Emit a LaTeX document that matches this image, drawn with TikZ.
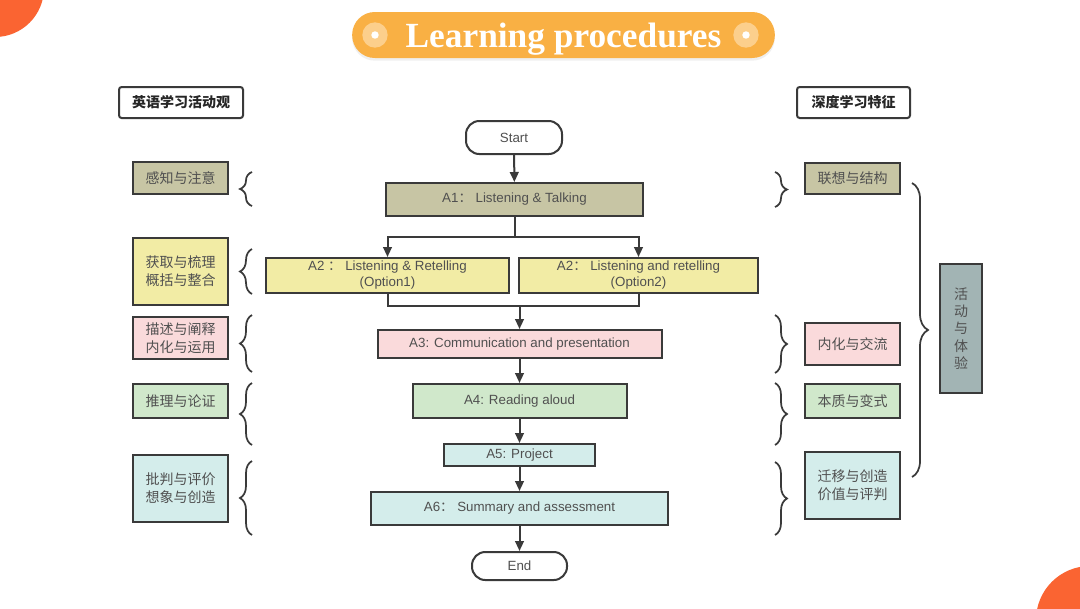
\documentclass[tikz,border=0pt]{standalone}
\usepackage{fontspec}
\setmainfont{Liberation Sans}
\newfontfamily\cjk{Noto Sans CJK SC}
\newfontfamily\titlefont{Liberation Serif}
\usetikzlibrary{arrows.meta,decorations.pathreplacing,shadows}

\definecolor{linegray}{HTML}{3A3A3A}
\definecolor{txtgray}{HTML}{505050}
\definecolor{olivebox}{HTML}{C7C5A4}
\definecolor{yellowbox}{HTML}{F2ECA5}
\definecolor{pinkbox}{HTML}{FADADB}
\definecolor{greenbox}{HTML}{D0E8CB}
\definecolor{cyanbox}{HTML}{D4EDEB}
\definecolor{slatebox}{HTML}{A2B4B4}
\definecolor{pillorange}{HTML}{F9B044}
\definecolor{pilldot}{HTML}{FCCF8C}
\definecolor{cornerred}{HTML}{FA6432}

\begin{document}
\begin{tikzpicture}[x=0.75pt, y=-0.75pt,
    box/.style={draw=linegray, line width=1.5pt, text=txtgray, inner sep=0pt, align=center, font=\fontsize{10}{12}\selectfont},
    cnbox/.style={box, minimum width=71.25pt, font=\cjk\fontsize{10.5}{13.5}\selectfont},
    hdrbox/.style={draw=linegray, line width=1.5pt, rounded corners=2pt, fill=white, minimum height=23.25pt, font=\cjk\bfseries\fontsize{10.5}{12}\selectfont, text=black!85},
    endbox/.style={box, fill=white, rounded corners=10pt},
    arr/.style={draw=linegray, line width=1.5pt, -{Triangle[length=7.5pt, width=6.5pt]}},
    wire/.style={draw=linegray, line width=1.5pt},
    brc/.style={draw=linegray, line width=1.3pt, decorate, decoration={brace, amplitude=#1}},
    brc/.default=9pt,
    pilldotnode/.style={circle, fill=pilldot, minimum size=19pt, inner sep=0pt}]

    \useasboundingbox (0,0) rectangle (1080,608);
    \fill[white] (0,0) rectangle (1080,608);
    \begin{scope}
        \clip (0,0) rectangle (1080,608);
        \fill[cornerred] (-5,-12) circle (36.75pt);
        \fill[cornerred] (1090,620) circle (40.5pt);
    \end{scope}

    \node[fill=pillorange, rounded corners=17pt, minimum width=317pt, minimum height=34.5pt, text=white, text depth=0pt,
        font=\titlefont\bfseries\fontsize{26.5}{28}\selectfont,
        drop shadow={opacity=0.12, shadow xshift=0pt, shadow yshift=-2pt}] (title) at (563.5,35) {Learning procedures};
    \node[pilldotnode] (dotl) at (375,35) {};
    \node[pilldotnode] (dotr) at (746,35) {};
    \fill[white] (dotl) circle (2.8pt);
    \fill[white] (dotr) circle (2.8pt);

    \node[hdrbox, minimum width=93pt] (hdrl) at (181,102.5) {英语学习活动观};
    \node[hdrbox, minimum width=84.75pt] (hdrr) at (853.5,102.5) {深度学习特征};

    \node[endbox, minimum width=72pt, minimum height=24.75pt] (start) at (514,137.5) {Start};
    \node[box, fill=olivebox, minimum width=192.75pt, minimum height=24.75pt] (a1) at (514.5,199.5) {A1{\cjk ：} Listening \& Talking};
    \node[box, fill=yellowbox, minimum width=182.25pt, minimum height=26.25pt] (a2l) at (387.5,275.5) {A2 {\cjk ：} Listening \& Retelling\\(Option1)};
    \node[box, fill=yellowbox, minimum width=179.25pt, minimum height=26.25pt] (a2r) at (638.5,275.5) {A2{\cjk ：} Listening and retelling\\(Option2)};
    \node[box, fill=pinkbox, minimum width=213pt, minimum height=21pt] (a3) at (519.5,344) {A3: Communication and presentation};
    \node[box, fill=greenbox, minimum width=160.5pt, minimum height=25.5pt] (a4) at (519.5,401) {A4: Reading aloud};
    \node[box, fill=cyanbox, minimum width=113.25pt, minimum height=16.5pt] (a5) at (519.5,455) {A5: Project};
    \node[box, fill=cyanbox, minimum width=222.75pt, minimum height=24.75pt] (a6) at (519.5,508.5) {A6{\cjk ：} Summary and assessment};
    \node[endbox, minimum width=71.25pt, minimum height=21pt] (finish) at (519.5,566) {End};

    \coordinate (split) at (514.5,237);
    \coordinate (join) at (519.5,306);
    \draw[arr] (start) -- (a1);
    \draw[wire] (a1) -- (split);
    \draw[arr] (split) -| (a2l);
    \draw[arr] (split) -| (a2r);
    \draw[wire] (a2l) |- (join) -| (a2r);
    \draw[arr] (join) -- (a3);
    \draw[arr] (a3) -- (a4);
    \draw[arr] (a4) -- (a5);
    \draw[arr] (a5) -- (a6);
    \draw[arr] (a6) -- (finish);

    \node[cnbox, fill=olivebox, minimum height=24pt] (l1) at (180.5,178) {感知与注意};
    \node[cnbox, fill=yellowbox, minimum height=50.25pt] (l2) at (180.5,271.5) {获取与梳理\\概括与整合};
    \node[cnbox, fill=pinkbox, minimum height=31.5pt] (l3) at (180.5,338) {描述与阐释\\内化与运用};
    \node[cnbox, fill=greenbox, minimum height=25.5pt] (l4) at (180.5,401) {推理与论证};
    \node[cnbox, fill=cyanbox, minimum height=50.25pt] (l5) at (180.5,488.5) {批判与评价\\想象与创造};

    \node[cnbox, fill=olivebox, minimum height=23.25pt] (r1) at (852.5,178.5) {联想与结构};
    \node[cnbox, fill=pinkbox, minimum height=31.5pt] (r2) at (852.5,344) {内化与交流};
    \node[cnbox, fill=greenbox, minimum height=25.5pt] (r3) at (852.5,401) {本质与变式};
    \node[cnbox, fill=cyanbox, minimum height=50.25pt] (r4) at (852.5,485.5) {迁移与创造\\价值与评判};
    \node[cnbox, fill=slatebox, minimum width=31.5pt, minimum height=96.75pt, font=\cjk\fontsize{10.5}{13}\selectfont] (vb) at (961,328.5) {活\\动\\与\\体\\验};

    \draw[brc] (252,206) -- (252,172);
    \draw[brc] (252,294) -- (252,249);
    \draw[brc] (252,372) -- (252,315);
    \draw[brc] (252,445) -- (252,383);
    \draw[brc] (252,535) -- (252,461);
    \draw[brc] (775,172) -- (775,207);
    \draw[brc] (775,315) -- (775,373);
    \draw[brc] (775,383) -- (775,445);
    \draw[brc] (775,462) -- (775,535);
    \draw[brc=12pt] (912,183) -- (912,477);
\end{tikzpicture}
\end{document}
